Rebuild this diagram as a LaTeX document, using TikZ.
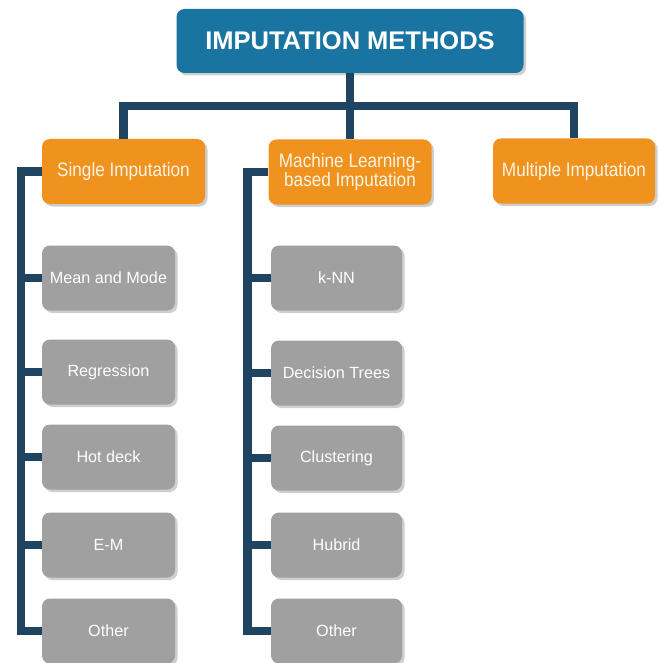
\documentclass[tikz,border=0pt]{standalone}
\usepackage{fontspec}
\setmainfont{Liberation Sans}
\newfontfamily\condfont[FakeStretch=0.88]{Liberation Sans}
\usetikzlibrary{shadows,calc}
\definecolor{topblue}{HTML}{1A74A1}
\definecolor{orng}{HTML}{F0921E}
\definecolor{gry}{HTML}{A0A0A0}
\definecolor{navy}{HTML}{1F4462}
\definecolor{cream}{HTML}{FDF4E6}
\tikzset{
  x=1pt, y=-1pt,
  boxshadow/.style={drop shadow={shadow xshift=2.5pt, shadow yshift=-2.5pt, fill=black!35, opacity=0.55}},
  topbox/.style={fill=topblue, rounded corners=8pt, minimum width=347pt, minimum height=64pt, text=white, font=\fontsize{25.5}{28}\selectfont\bfseries, boxshadow, inner sep=0pt},
  catbox/.style={fill=orng, rounded corners=8pt, minimum width=163pt, minimum height=65pt, text=cream, font=\condfont\fontsize{19.5}{19.5}\selectfont, align=center, boxshadow, inner sep=0pt},
  leafbox/.style={fill=gry, rounded corners=8pt, minimum width=133pt, minimum height=65pt, text=white, font=\fontsize{16.2}{19}\selectfont, boxshadow, inner sep=0pt},
  conn/.style={draw=navy, line width=8.5pt, line join=miter},
}
\begin{document}
\begin{tikzpicture}
\useasboundingbox (0,0) rectangle (660,663);
% nodes
\node[topbox] (top) at (350,41) {IMPUTATION METHODS};
\node[catbox] (single) at (123.5,171.5) {Single Imputation};
\node[catbox] (ml) at (350,172) {Machine Learning-\\based Imputation};
\node[catbox, minimum width=162pt] (multi) at (574,171) {Multiple Imputation};
\node[leafbox] (s1) at (108.5,278) {Mean and Mode};
\node[leafbox] (s2) at (108.5,372) {Regression};
\node[leafbox] (s3) at (108.5,457) {Hot deck};
\node[leafbox] (s4) at (108.5,545) {E-M};
\node[leafbox] (s5) at (108.5,631) {Other};
\node[leafbox, minimum width=131pt] (m1) at (336.5,278) {k-NN};
\node[leafbox, minimum width=131pt] (m2) at (336.5,373) {Decision Trees};
\node[leafbox, minimum width=131pt] (m3) at (336.5,458) {Clustering};
\node[leafbox, minimum width=131pt] (m4) at (336.5,545) {Hubrid};
\node[leafbox, minimum width=131pt] (m5) at (336.5,631) {Other};
% connectors
\coordinate (bar) at ($(top.south)!0.5!(ml.north)$);
\draw[conn] (top.south) -- (ml.north);
\draw[conn] (single.north) |- (bar) -| (multi.north);
\coordinate (ts) at ($(single.west)+(-21,0)$);
\coordinate (tm) at ($(ml.west)+(-21,0)$);
\draw[conn] (single.west) -- (ts) |- (s5.west);
\draw[conn] (ml.west) -- (tm) |- (m5.west);
\foreach \k in {1,2,3,4}{
  \draw[conn] (s\k.west) -- (s\k.west -| ts);
  \draw[conn] (m\k.west) -- (m\k.west -| tm);
}
\end{tikzpicture}
\end{document}
